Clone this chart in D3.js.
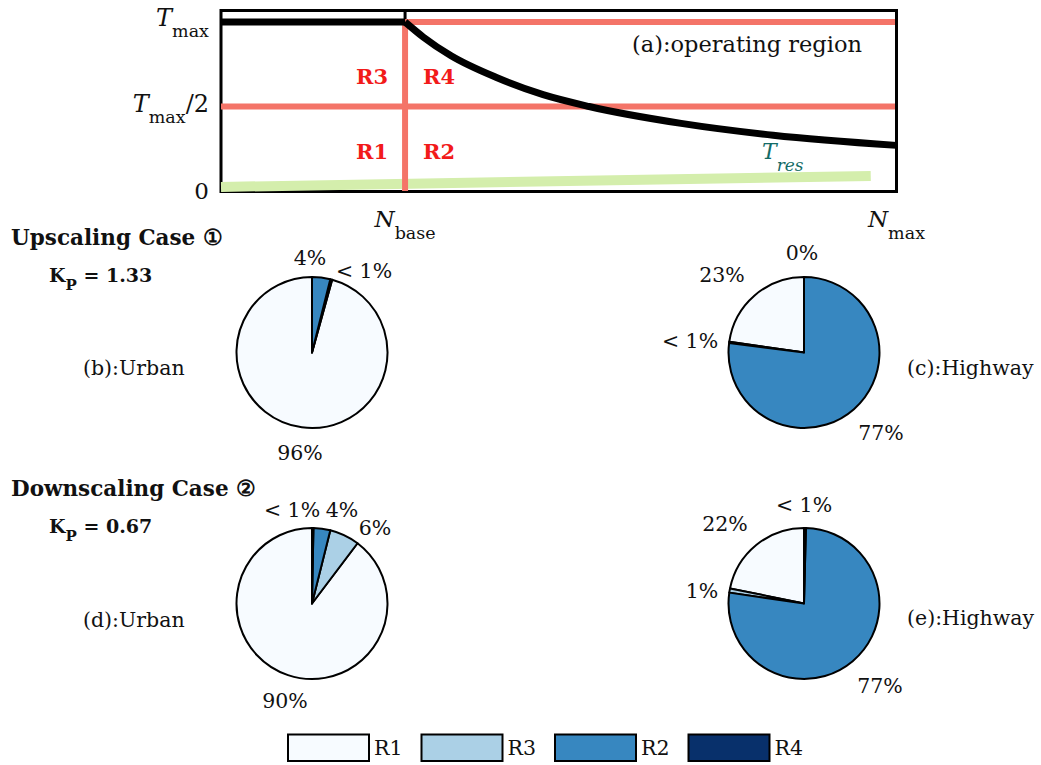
<!DOCTYPE html>
<html><head><meta charset="utf-8">
<script src="https://cdn.jsdelivr.net/npm/d3@7"></script>
<style>
html,body{margin:0;padding:0;background:#fff;}
svg{display:block;}
text{font-family:"DejaVu Serif",serif;fill:#111;}
</style></head>
<body>
<svg id="chart" width="1041" height="765"></svg>
<script>
// ---------- DATA ----------
// operating region (N in units of N_base, T in units of T_max)
const flatN = [0, 1];
const flatT = [1, 1];
const fieldN = [1, 1.1, 1.25, 1.5, 1.75, 2, 2.5, 3, 3.67];
const fieldT = [1, 0.91, 0.8, 0.67, 0.57, 0.5, 0.4, 0.33, 0.27];
const resN = [0, 3.53];
const resT = [0.024, 0.089];
const yTickValues = [1, 0.5, 0];
const xTickValues = [1, 3.67];

// pie charts, order: R1, R3, R2, R4
const regions = ["R1", "R3", "R2", "R4"];
const urbanUp = [95.7, 0.4, 3.9, 0];
const highwayUp = [22.7, 0.3, 77.0, 0];
const urbanDown = [89.7, 6.4, 3.6, 0.3];
const highwayDown = [21.8, 0.9, 76.9, 0.4];
const urbanUpText = ["96%", "< 1%", "4%", ""];
const highwayUpText = ["23%", "< 1%", "77%", "0%"];
const urbanDownText = ["90%", "6%", "4%", "< 1%"];
const highwayDownText = ["22%", "1%", "77%", "< 1%"];
const pieNames = ["(b):Urban", "(c):Highway", "(d):Urban", "(e):Highway"];
const caseTitles = ["Upscaling Case \u2460", "Downscaling Case \u2461"];
const kpValues = ["1.33", "0.67"];

// ---------- LAYOUT / STYLE ----------
const colors = {R1: "#f7fbff", R3: "#abd0e6", R2: "#3787c0", R4: "#08306b"};
const svg = d3.select("#chart");

const x = d3.scaleLinear().domain([0, 3.67]).range([221, 896.5]);
const y = d3.scaleLinear().domain([0, 1]).range([191, 22]);

// frame
svg.append("rect").attr("x", x(0)).attr("y", 10.5)
  .attr("width", x(3.67) - x(0)).attr("height", y(0) - 10.5 + 0.5)
  .attr("fill", "none").attr("stroke", "#000").attr("stroke-width", 3);

// black tick at N_base top
svg.append("line").attr("x1", x(1)).attr("x2", x(1)).attr("y1", 10.5).attr("y2", y(1))
  .attr("stroke", "#000").attr("stroke-width", 3);

const line = d3.line().x(d => x(d[0])).y(d => y(d[1]));

// T_res line
svg.append("path").datum(d3.zip(resN, resT)).attr("d", line)
  .attr("fill", "none").attr("stroke", "#d4eeac").attr("stroke-width", 10);

// region lines (red)
const red = "#f47468";
svg.append("line").attr("x1", x(1)).attr("x2", x(3.67)).attr("y1", y(1)).attr("y2", y(1))
  .attr("stroke", red).attr("stroke-width", 6);
svg.append("line").attr("x1", x(0)).attr("x2", x(3.67)).attr("y1", y(0.5)).attr("y2", y(0.5))
  .attr("stroke", red).attr("stroke-width", 6);
svg.append("line").attr("x1", x(1)).attr("x2", x(1)).attr("y1", y(1)).attr("y2", y(0))
  .attr("stroke", red).attr("stroke-width", 6);

// torque envelope
svg.append("path").datum(d3.zip(flatN, flatT)).attr("d", line)
  .attr("fill", "none").attr("stroke", "#000").attr("stroke-width", 7);
svg.append("path").datum(d3.zip(fieldN, fieldT)).attr("d", line.curve(d3.curveMonotoneX))
  .attr("fill", "none").attr("stroke", "#000").attr("stroke-width", 7);

// right border again on top
svg.append("line").attr("x1", x(3.67)).attr("x2", x(3.67)).attr("y1", 10.5).attr("y2", y(0)+0.5)
  .attr("stroke", "#000").attr("stroke-width", 3);

// region labels
const regLab = [["R3", 0.5, 0.75, "end"], ["R4", 1.5, 0.75, "start"], ["R1", 0.5, 0.25, "end"], ["R2", 1.5, 0.25, "start"]];
regLab.forEach(r => {
  svg.append("text").text(r[0])
    .attr("x", r[3] === "end" ? x(1) - 17 : x(1) + 18)
    .attr("y", r[2] > 0.6 ? 84 : 159)
    .attr("text-anchor", r[3]).attr("font-weight", "bold")
    .attr("font-size", 21).style("fill", "#f21a1a");
});

// panel label
svg.append("text").text("(a):operating region").attr("x", 632).attr("y", 52)
  .attr("font-size", 22.5);

// T_res label
const tres = svg.append("text").attr("x", 762).attr("y", 159).style("fill", "#136b66")
  .attr("font-style", "italic");
tres.append("tspan").text("T").attr("font-size", 22);
tres.append("tspan").text("res").attr("font-size", 17).attr("dy", 12);

// y tick labels
function subLabel(g, main, sub, tail, xr, yb) {
  const t = g.append("text").attr("x", xr).attr("y", yb).attr("text-anchor", "end");
  t.append("tspan").text(main).attr("font-style", "italic").attr("font-size", 24);
  t.append("tspan").text(sub).attr("font-size", 17.5).attr("dy", 11);
  if (tail) t.append("tspan").text(tail).attr("font-size", 24).attr("dy", -11);
  return t;
}
subLabel(svg, "T", "max", null, 209, y(1) + 4);
subLabel(svg, "T", "max", "/2", 209, y(0.5) + 5);
svg.append("text").text("0").attr("x", 209).attr("y", y(0) + 8)
  .attr("text-anchor", "end").attr("font-size", 23);

// x tick labels
[["base", xTickValues[0]], ["max", xTickValues[1]]].forEach(([s, v]) => {
  const t = svg.append("text").attr("x", x(v)).attr("y", 227).attr("text-anchor", "middle");
  t.append("tspan").text("N").attr("font-style", "italic").attr("font-size", 23);
  t.append("tspan").text(s).attr("font-size", 17.5).attr("dy", 12);
});

// case titles
[[caseTitles[0], kpValues[0], 245, 282], [caseTitles[1], kpValues[1], 496, 533]].forEach(c => {
  svg.append("text").text(c[0]).attr("x", 11).attr("y", c[2])
    .attr("font-weight", "bold").attr("font-size", 21.5);
  const k = svg.append("text").attr("x", 49).attr("y", c[3]).attr("font-weight", "bold");
  k.append("tspan").text("K").attr("font-size", 19);
  k.append("tspan").text("P").attr("font-size", 15).attr("dy", 8);
  k.append("tspan").text(" = " + c[1]).attr("font-size", 19).attr("dy", -8);
});

// ---------- PIES ----------
const pieLayout = [
  {vals: urbanUp, txt: urbanUpText, name: pieNames[0], cx: 312, cy: 352.5,
   off: [[-12, 107.5], [52, -74.5], [-2, -87.5], [0, 0]], nameOff: [-229, 22.5]},
  {vals: highwayUp, txt: highwayUpText, name: pieNames[1], cx: 804, cy: 352.5,
   off: [[-82, -70.5], [-114, -4.5], [77, 87.5], [-2, -92.5]], nameOff: [103, 22.5]},
  {vals: urbanDown, txt: urbanDownText, name: pieNames[2], cx: 312, cy: 603.5,
   off: [[-27, 104.5], [63, -68.5], [30, -86.5], [-20, -86.5]], nameOff: [-229, 23.5]},
  {vals: highwayDown, txt: highwayDownText, name: pieNames[3], cx: 804, cy: 603.5,
   off: [[-79, -72.5], [-102, -5.5], [76, 89.5], [0, -91.5]], nameOff: [103, 21.5]}
];
const R = 75.5;
const pie = d3.pie().sort(null).startAngle(0).endAngle(-2 * Math.PI);
const arc = d3.arc().innerRadius(0).outerRadius(R);

pieLayout.forEach(p => {
  const g = svg.append("g").attr("transform", `translate(${p.cx},${p.cy})`);
  const data = regions.map((r, i) => ({r, v: p.vals[i], t: p.txt[i], o: p.off[i]}));
  g.selectAll("path").data(pie.value(d => d.v)(data)).join("path")
    .attr("d", arc).attr("fill", d => colors[d.data.r])
    .attr("stroke", "#000").attr("stroke-width", 2).attr("stroke-linejoin", "round");
  g.selectAll("text.pct").data(data.filter(d => d.t)).join("text").attr("class", "pct")
    .text(d => d.t).attr("x", d => d.o[0]).attr("y", d => d.o[1])
    .attr("text-anchor", "middle").attr("font-size", 20.5);
  g.append("text").text(p.name).attr("x", p.nameOff[0]).attr("y", p.nameOff[1])
    .attr("font-size", 20.5);
});

// ---------- LEGEND ----------
const lg = svg.append("g");
regions.forEach((r, i) => {
  const bx = 288 + i * 133.5;
  lg.append("rect").attr("x", bx).attr("y", 734.5).attr("width", 81).attr("height", 26.5)
    .attr("fill", colors[r]).attr("stroke", "#000").attr("stroke-width", 2);
  lg.append("text").text(r).attr("x", bx + 86).attr("y", 755).attr("font-size", 20.5);
});
</script>
</body></html>
